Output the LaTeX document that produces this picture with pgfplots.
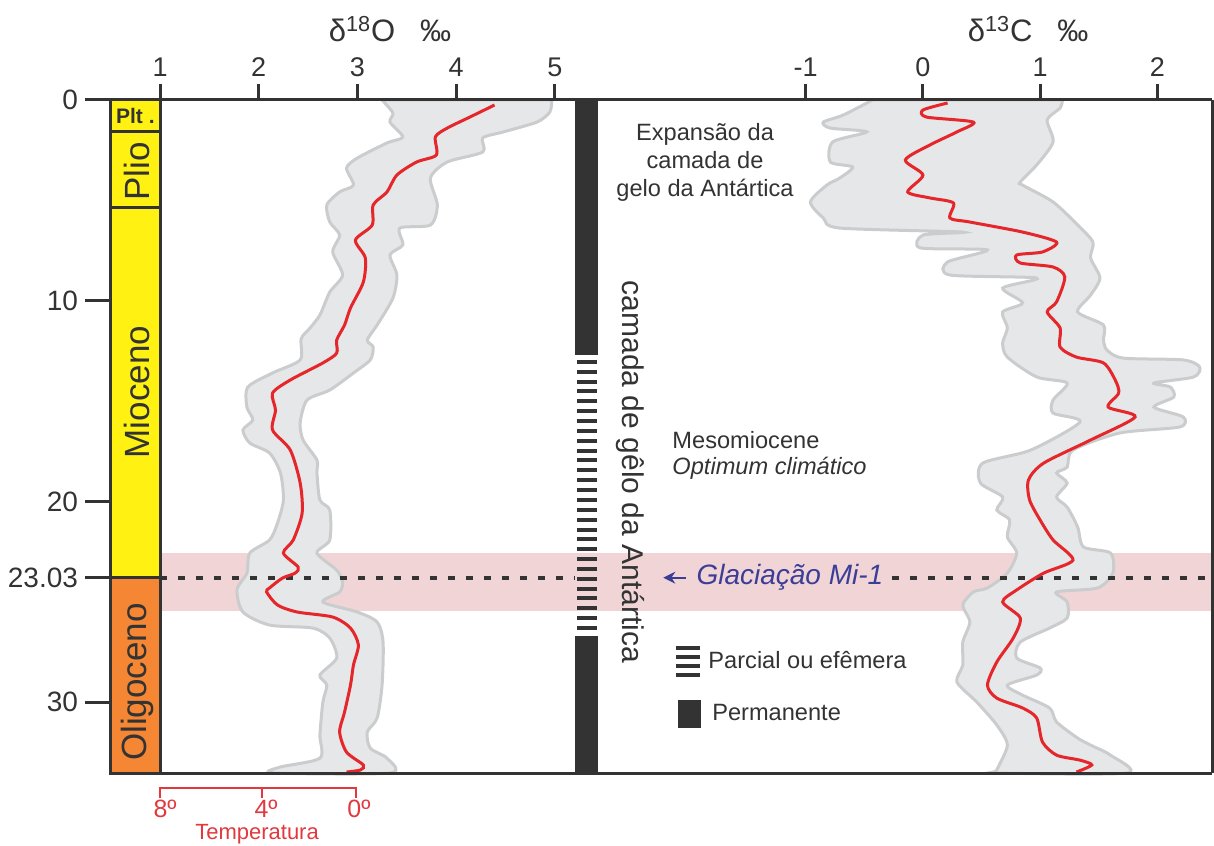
\documentclass[border=0pt]{standalone}
\usepackage{pgfplots}
\pgfplotsset{compat=1.18}
\usetikzlibrary{arrows.meta}
\usepackage{fontspec}
\setmainfont{Liberation Sans}
\definecolor{dk}{HTML}{333333}
\definecolor{ylw}{HTML}{FFF212}
\definecolor{org}{HTML}{F58634}
\definecolor{pnk}{HTML}{F1D5D6}
\definecolor{gfill}{HTML}{E6E7E8}
\definecolor{gedge}{HTML}{CBCCCD}
\definecolor{rd}{HTML}{E5262A}
\definecolor{bl}{HTML}{3C3D96}
\definecolor{tred}{HTML}{E0393E}
\tikzset{txt/.style={text=dk, font=\fontsize{11.8}{14}\selectfont}}
\begin{document}
\begin{tikzpicture}
\useasboundingbox (0,0) rectangle (607pt,422.5pt);
\pgfplotsset{
 panel/.style={scale only axis, anchor=south west, height=336.5pt,
   ymin=0, ymax=33.53, y dir=reverse, axis on top, clip=false,
   axis line style={draw=dk, line width=1.5pt},
   tick style={draw=dk, line width=1.5pt},
   tick align=outside,
   /pgf/number format/assume math mode=true,
   ticklabel style={text=dk, font=\fontsize{13.5}{15}\selectfont}},
}
% ---------------- left panel (delta 18O) ----------------
\begin{axis}[panel, at={(55pt,36pt)}, width=244pt, xmin=0.493, xmax=5.438,
  axis y line*=left, y axis line style={-}, ytick=\empty,
  xtick={1,2,3,4,5}, xtick pos=right, xticklabel pos=right, major tick length=8pt]
\addplot[fill=pnk, draw=none] coordinates {(1,22.57)(5.438,22.57)(5.438,25.46)(1,25.46)} -- cycle;
% ice sheet bar
\addplot[fill=dk, draw=none] coordinates {(5.205,0)(5.438,0)(5.438,12.71)(5.205,12.71)} -- cycle;
\addplot[fill=dk, draw=none] coordinates {(5.205,26.7)(5.438,26.7)(5.438,33.53)(5.205,33.53)} -- cycle;
\addplot[only marks, mark=-, mark size=5.1pt, mark options={draw=dk, line width=2pt}] coordinates {
(5.3265,13.05)(5.3265,13.54)(5.3265,14.03)(5.3265,14.52)(5.3265,15.01)(5.3265,15.51)(5.3265,16.00)
(5.3265,16.49)(5.3265,16.98)(5.3265,17.47)(5.3265,17.96)(5.3265,18.45)(5.3265,18.94)(5.3265,19.43)
(5.3265,19.92)(5.3265,20.42)(5.3265,20.91)(5.3265,21.40)(5.3265,21.89)(5.3265,22.38)(5.3265,22.87)
(5.3265,23.36)(5.3265,23.85)(5.3265,24.34)(5.3265,24.83)(5.3265,25.32)(5.3265,25.82)(5.3265,26.31)};
% epochs column
\addplot[fill=ylw, draw=dk, line width=1.5pt] coordinates {(0.493,0)(1,0)(1,1.55)(0.493,1.55)} -- cycle;
\addplot[fill=ylw, draw=dk, line width=1.5pt] coordinates {(0.493,1.55)(1,1.55)(1,5.36)(0.493,5.36)} -- cycle;
\addplot[fill=ylw, draw=dk, line width=1.5pt] coordinates {(0.493,5.36)(1,5.36)(1,23.8)(0.493,23.8)} -- cycle;
\addplot[fill=org, draw=dk, line width=1.5pt] coordinates {(0.493,23.8)(1,23.8)(1,33.53)(0.493,33.53)} -- cycle;
\node[text=dk, font=\bfseries\fontsize{10.5}{12}\selectfont] at (axis cs:0.75,0.78) {Plt .};
\node[text=dk, rotate=90, font=\fontsize{17.5}{20}\selectfont] at (axis cs:0.767,3.55) {Plio};
\node[text=dk, rotate=90, font=\fontsize{17.5}{20}\selectfont] at (axis cs:0.767,14.55) {Mioceno};
\node[text=dk, rotate=90, font=\fontsize{17.5}{20}\selectfont] at (axis cs:0.767,29.0) {Oligoceno};
% envelope
\addplot[smooth, tension=0.45, fill=gfill, draw=gedge, line width=1.5pt] coordinates {
(3.25,0)(3.36,0.65)(3.33,1.10)(3.46,1.84)(3.30,2.14)(3.00,2.89)(2.89,3.39)(2.96,4.24)(2.82,4.58)(2.69,5.23)
(2.72,6.08)(2.82,6.73)(2.75,7.57)(2.85,8.72)(2.72,9.57)(2.62,10.71)(2.52,11.36)(2.43,11.9)(2.42,12.95)(2.14,13.60)
(1.89,14.30)(1.88,15.30)(1.94,15.94)(1.84,16.44)(1.91,17.09)(2.11,17.59)(2.22,18.58)(2.25,19.93)(2.19,21.08)(2.11,21.92)
(1.91,22.57)(1.88,23.57)(1.78,24.4)(1.84,25.51)(2.11,26.16)(2.55,26.31)(2.72,26.81)(2.79,27.80)(2.62,28.65)(2.69,29.15)
(2.65,30.00)(2.62,31.64)(2.62,32.79)(2.22,33.23)(2.15,33.53)
(3.33,33.53)(3.30,32.79)(3.13,32.29)(3.10,31.49)(3.20,30.79)(3.25,29.15)(3.26,27.01)(3.20,26.01)(3.00,25.51)(2.65,25.01)
(2.82,24.51)(2.85,24.0)(2.79,23.42)(2.59,22.57)(2.72,21.92)(2.72,20.43)(2.62,19.93)(2.59,18.58)(2.59,17.94)(2.45,16.94)
(2.42,16.09)(2.49,14.95)(2.72,14.45)(2.96,13.60)(3.13,12.95)(3.16,12.31)(3.10,11.96)(3.20,11.21)(3.36,9.87)(3.40,8.72)
(3.33,7.72)(3.46,7.22)(3.43,6.38)(3.74,6.23)(3.81,5.23)(3.74,3.89)(3.91,3.09)(4.27,2.59)(4.27,1.89)(4.48,1.59)
(4.82,1.10)(4.95,0.60)(4.97,0)} -- cycle;
\addplot[dk, line width=2pt, dash pattern=on 3.5pt off 5.5pt] coordinates {(1,23.8)(5.205,23.8)};
\addplot[smooth, tension=0.45, rd, line width=1.5pt] coordinates {
(4.39,0.25)(4.14,0.85)(3.91,1.40)(3.79,1.84)(3.80,2.74)(3.60,3.09)(3.40,3.74)(3.30,4.58)(3.16,5.23)(3.15,6.23)
(2.98,6.98)(3.08,7.87)(3.06,9.07)(2.93,10.36)(2.87,11.21)(2.79,11.96)(2.79,12.61)(2.65,13.10)(2.32,13.95)(2.14,14.60)
(2.17,15.45)(2.14,16.44)(2.32,17.44)(2.42,19.08)(2.44,20.58)(2.35,21.92)(2.25,22.57)(2.40,23.27)(2.37,23.57)(2.24,23.82)
(2.11,24.31)(2.08,24.51)(2.19,25.16)(2.39,25.51)(2.75,25.76)(2.93,26.31)(3.01,27.15)(2.96,28.15)(2.93,29.15)(2.87,30.49)
(2.82,31.49)(2.89,32.49)(3.06,33.13)(3.03,33.38)(2.89,33.48)};
% title
\node[text=dk, font=\fontsize{15.5}{18}\selectfont] at (axis cs:3.33,-3.54) {δ\textsuperscript{18}O\hspace{0.8em}‰};
% temperature scale
\draw[tred, line width=1.2pt] (axis cs:1,34.78) -- (axis cs:1,34.28) -- (axis cs:2.986,34.28) -- (axis cs:2.986,34.78);
\draw[tred, line width=1.2pt] (axis cs:2.033,34.28) -- (axis cs:2.033,34.78);
\node[inner sep=0pt, text=tred, font=\fontsize{12.5}{14}\selectfont] at (axis cs:1.051,35.3) {8º};
\node[inner sep=0pt, text=tred, font=\fontsize{12.5}{14}\selectfont] at (axis cs:2.074,35.3) {4º};
\node[inner sep=0pt, text=tred, font=\fontsize{12.5}{14}\selectfont] at (axis cs:3.016,35.3) {0º};
\node[inner sep=0pt, text=tred, font=\fontsize{11}{13}\selectfont] at (axis cs:1.983,36.6) {Temperatura};
\end{axis}
% ---------------- y ticks overlay ----------------
\begin{axis}[panel, at={(55pt,36pt)}, width=244pt, xmin=0.493, xmax=5.438,
  axis x line=none, axis y line*=left, y axis line style={-}, xtick=\empty,
  ytick={0,10,20,23.8,30}, yticklabels={0,10,20,23.03,30}, major tick length=12.5pt,
  yticklabel style={font=\fontsize{14}{16}\selectfont}]
\end{axis}
% ---------------- right panel (delta 13C) ----------------
\begin{axis}[panel, at={(299pt,36pt)}, width=307pt, xmin=-2.772, xmax=2.466,
  axis y line*=right, y axis line style={-}, ytick=\empty,
  xtick={-1,0,1,2}, xtick pos=right, xticklabel pos=right, major tick length=8pt]
\addplot[fill=pnk, draw=none] coordinates {(-2.772,22.57)(2.466,22.57)(2.466,25.46)(-2.772,25.46)} -- cycle;
\addplot[smooth, tension=0.45, fill=gfill, draw=gedge, line width=1.5pt] coordinates {
(-0.43,0)(-0.68,0.75)(-0.85,1.10)(-0.79,1.40)(-0.48,1.59)(-0.77,2.09)(-0.79,3.09)(-0.60,3.34)(-0.71,3.89)(-0.82,4.24)
(-0.96,5.08)(-0.85,5.88)(-0.71,6.38)(0.34,6.58)(0.00,6.73)(-0.02,7.37)(0.55,7.47)(0.21,8.07)(0.23,8.72)(0.97,8.87)
(0.68,9.37)(0.85,10.11)(0.68,10.56)(0.72,11.36)(0.68,12.11)(0.72,12.81)(0.97,13.80)(1.23,14.10)(1.11,14.95)(1.11,15.60)
(1.34,16.04)(0.92,17.44)(0.51,18.09)(0.49,19.08)(0.68,19.78)(0.63,20.43)(0.74,20.93)(0.72,21.77)(0.80,22.57)(0.72,23.57)
(0.55,24.31)(0.43,24.51)(0.34,25.16)(0.40,26.01)(0.34,27.01)(0.34,28.15)(0.29,29.00)(0.46,30.00)(0.63,31.14)(0.72,32.14)
(0.63,33.38)(0.63,33.53)
(1.74,33.53)(1.60,32.64)(1.43,32.14)(1.32,31.79)(1.14,30.99)(1.08,30.29)(0.85,29.65)(0.72,29.15)(0.97,28.65)(1.00,28.30)
(0.80,27.80)(0.83,27.01)(1.08,26.31)(1.23,25.81)(1.23,25.01)(1.14,24.51)(1.49,24.31)(1.62,23.57)(1.60,22.57)(1.37,22.27)
(1.32,21.28)(1.23,20.28)(1.14,19.78)(1.23,19.08)(1.14,18.58)(1.23,18.29)(1.28,17.44)(1.68,16.59)(2.19,16.29)(2.22,15.79)
(1.97,15.30)(2.14,14.80)(2.11,14.30)(1.97,14.10)(2.31,13.80)(2.36,13.30)(2.22,12.95)(1.71,12.86)(1.57,12.46)(1.54,11.96)
(1.54,11.21)(1.32,10.56)(1.43,9.72)(1.51,8.87)(1.43,7.87)(1.45,7.08)(1.32,6.23)(1.11,5.08)(0.85,4.24)(0.83,4.09)
(0.97,3.24)(1.11,2.09)(1.06,1.00)(1.17,0.40)(1.19,0)} -- cycle;
\addplot[dk, line width=2pt, dash pattern=on 3.5pt off 5.5pt] coordinates {(-0.264,23.8)(2.466,23.8)};
\addplot[smooth, tension=0.45, rd, line width=1.5pt] coordinates {
(0.21,0.15)(0.00,0.50)(0.03,0.85)(0.43,1.10)(0.29,1.59)(0.06,2.24)(-0.15,2.99)(0.00,3.74)(-0.13,4.58)(0.06,4.88)
(0.26,5.13)(0.23,5.88)(0.40,6.08)(0.85,6.58)(1.14,7.08)(1.02,7.57)(0.80,7.72)(0.83,8.12)(1.11,8.32)(1.21,8.82)
(1.14,10.06)(1.06,10.56)(1.17,11.36)(1.17,12.31)(1.31,12.81)(1.54,13.10)(1.64,13.95)(1.67,14.60)(1.58,15.30)(1.81,15.79)
(1.43,16.94)(1.03,18.09)(0.90,18.93)(0.91,19.93)(1.00,20.93)(1.11,21.92)(1.28,22.92)(1.03,23.57)(0.80,24.41)(0.68,25.01)
(0.83,25.81)(0.77,26.81)(0.63,28.00)(0.55,29.15)(0.63,29.80)(0.85,30.29)(0.97,30.79)(1.02,31.99)(1.14,32.64)(1.34,32.89)
(1.44,33.13)(1.31,33.48)};
% title
\node[text=dk, font=\fontsize{15.5}{18}\selectfont] at (axis cs:0.897,-3.54) {δ\textsuperscript{13}C\hspace{0.8em}‰};
% texts
\node[txt, align=center] at (axis cs:-1.859,3.09) {Expansão da\\camada de\\gelo da Antártica};
\node[text=dk, rotate=-90, font=\fontsize{15}{18}\selectfont] at (axis cs:-2.499,18.53) {camada de gêlo da Antártica};
\node[txt, anchor=west, inner sep=0pt] at (axis cs:-2.14,16.94) {Mesomiocene};
\node[text=dk, anchor=west, inner sep=0pt, font=\itshape\fontsize{11.8}{14}\selectfont] at (axis cs:-2.14,18.34) {Optimum climático};
\draw[bl, line width=1pt, -{Stealth[length=6pt,width=6pt]}] (axis cs:-2.019,23.8) -- (axis cs:-2.215,23.8);
\node[anchor=west, inner sep=0pt, text=bl, font=\itshape\fontsize{14}{16}\selectfont] at (axis cs:-1.935,23.8) {Glaciação Mi-1};
% legend
\addplot[only marks, mark=-, mark size=6pt, mark options={draw=dk, line width=2pt}] coordinates {(-2.0035,27.30)(-2.0035,27.75)(-2.0035,28.20)(-2.0035,28.65)};
\node[txt, anchor=west, inner sep=0pt] at (axis cs:-1.833,27.9) {Parcial ou efêmera};
\addplot[fill=dk, draw=none] coordinates {(-2.089,29.9)(-1.893,29.9)(-1.893,31.29)(-2.089,31.29)} -- cycle;
\node[txt, anchor=west, inner sep=0pt] at (axis cs:-1.80,30.54) {Permanente};
\end{axis}
\end{tikzpicture}
\end{document}
